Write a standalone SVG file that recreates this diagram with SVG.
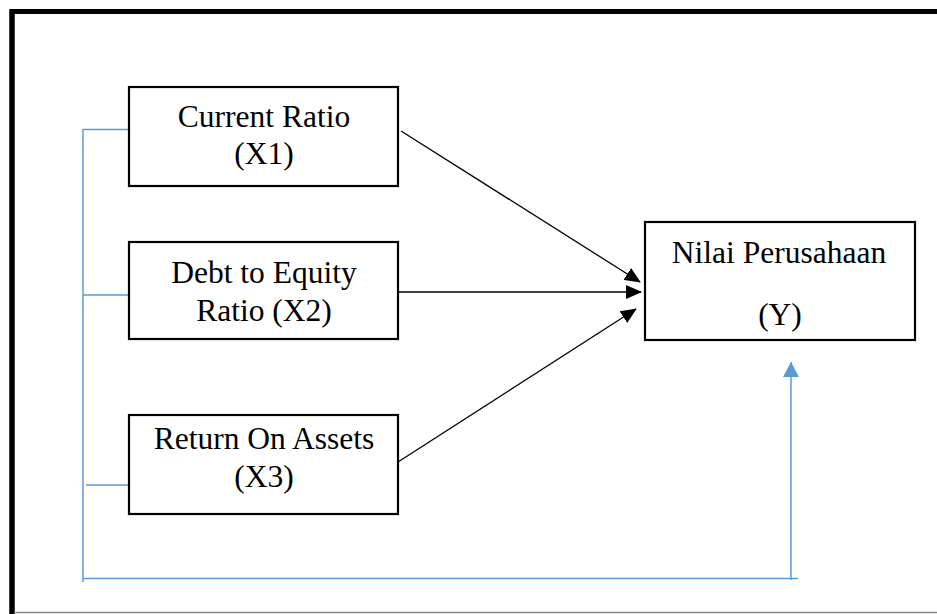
<svg xmlns="http://www.w3.org/2000/svg" width="937" height="614" viewBox="0 0 937 614">
<style>
.box{fill:#fff;stroke:#000;stroke-width:2.2}
.t{font-family:"Liberation Serif","Times New Roman",serif;font-size:31.5px;fill:#000;text-anchor:middle}
.blk{stroke:#000;stroke-width:1.3;fill:none}
.blu{stroke:#5b9bd5;stroke-width:1.5;fill:none}
</style>
<defs>
<marker id="ah" markerUnits="userSpaceOnUse" markerWidth="16" markerHeight="14" refX="15" refY="7" orient="auto">
<path d="M0,0 L16,7 L0,14 Z" fill="#000"/>
</marker>
<marker id="ahb" markerUnits="userSpaceOnUse" markerWidth="16" markerHeight="16" refX="15" refY="8" orient="auto">
<path d="M0,0 L15,8 L0,16 Z" fill="#5b9bd5"/>
</marker>
</defs>
<rect width="937" height="614" fill="#fff"/>
<g id="frame">
<line x1="12" y1="11.5" x2="937" y2="11.5" stroke="#000" stroke-width="5"/>
<line x1="12" y1="9" x2="12" y2="614" stroke="#000" stroke-width="5.5"/>
<line x1="14" y1="612.5" x2="937" y2="612.5" stroke="#888" stroke-width="1.5"/>
</g>
<g id="connectors">
<polyline class="blu" points="129,129.5 83,129.5"/>
<line class="blk" x1="401" y1="131" x2="640" y2="282" marker-end="url(#ah)"/>
<line class="blk" x1="398" y1="292" x2="641" y2="292" marker-end="url(#ah)"/>
<line class="blk" x1="398" y1="462" x2="636" y2="309" marker-end="url(#ah)"/>
<line class="blu" x1="83" y1="129" x2="83" y2="582"/>
<line class="blu" x1="83" y1="295" x2="129" y2="295"/>
<line class="blu" x1="86" y1="485" x2="129" y2="485"/>
<line class="blu" x1="83" y1="578.5" x2="798" y2="578.5"/>
<line class="blu" x1="791" y1="580" x2="791" y2="362" marker-end="url(#ahb)"/>
</g>
<g id="x1">
<rect class="box" x="129" y="87" width="269" height="99"/>
<text class="t" x="264" y="127">Current Ratio</text>
<text class="t" x="264" y="164">(X1)</text>
</g>
<g id="x2">
<rect class="box" x="129" y="242" width="269" height="97"/>
<text class="t" x="264" y="283">Debt to Equity</text>
<text class="t" x="264" y="321">Ratio (X2)</text>
</g>
<g id="x3">
<rect class="box" x="129" y="415" width="269" height="99"/>
<text class="t" x="264" y="449">Return On Assets</text>
<text class="t" x="264" y="487">(X3)</text>
</g>
<g id="y">
<rect class="box" x="645" y="222" width="270" height="118"/>
<text class="t" x="779" y="263">Nilai Perusahaan</text>
<text class="t" x="780" y="325">(Y)</text>
</g>
</svg>
